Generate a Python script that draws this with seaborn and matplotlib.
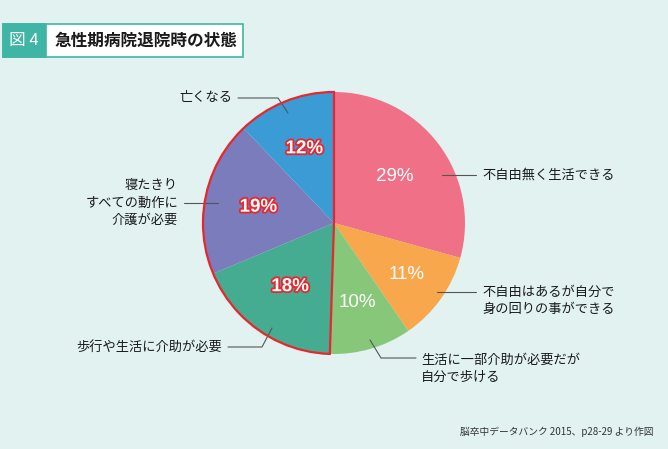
import matplotlib
matplotlib.use("Agg")
import matplotlib.pyplot as plt
import matplotlib.patheffects as pe
from matplotlib.patches import Wedge, Rectangle
import seaborn as sns
import numpy as np

# ---- data ----
categories = ["不自由無く生活できる", "不自由はあるが自分で\n身の回りの事ができる",
              "生活に一部介助が必要だが\n自分で歩ける", "歩行や生活に介助が必要",
              "寝たきり\nすべての動作に\n介護が必要", "亡くなる"]
values = [29, 11, 10, 18, 19, 12]
slice_colors = ["#f07088", "#f8a74c", "#86c779", "#45ab91", "#7b7cbb", "#3a9bd5"]
outlined = [False, False, False, True, True, True]
title_tag = "図 4"
title_text = "急性期病院退院時の状態"
source_text = "脳卒中データバンク 2015、p28-29 より作図"

sns.set_theme(style="white")
plt.rcParams['font.family'] = ['Noto Sans CJK JP', 'DejaVu Sans']

BG = "#e1f2f1"
W, H = 668, 449
fig = plt.figure(figsize=(W / 100, H / 100), dpi=100, facecolor=BG)
ax = fig.add_axes([0, 0, 1, 1])
ax.set_xlim(0, W)
ax.set_ylim(0, H)
ax.axis("off")
ax.set_facecolor(BG)

def py(y):
    return H - y

cx, cy, R = 334, py(223), 131
palette = sns.color_palette(slice_colors)
wedges, _ = ax.pie(values, colors=palette, startangle=90, counterclock=False,
                   center=(cx, cy), radius=R, frame=True,
                   wedgeprops=dict(linewidth=0))
ax.set_xlim(0, W)
ax.set_ylim(0, H)
ax.set_aspect("equal")
ax.axis("off")

# red outline around the outlined group
total = sum(values)
start_frac = sum(v for v, o in zip(values, outlined) if not o) / total
t2 = 90 - 360 * start_frac + 360
ax.add_patch(Wedge((cx, cy), R, 90, t2, fill=False, edgecolor="#e8262e",
                   linewidth=1.6, zorder=5))

# percentage labels
label_r = [0.58, 0.68, 0.63, 0.59, 0.59, 0.61]
cum = 0
for v, o, lr in zip(values, outlined, label_r):
    mid = 90 - 360 * (cum + v / 2) / total
    cum += v
    x = cx + lr * R * np.cos(np.radians(mid))
    y = cy + lr * R * np.sin(np.radians(mid))
    if o:
        t = ax.text(x, y, f"{v}%", ha="center", va="center", fontsize=13.5,
                    fontweight="bold", color="white", family="Liberation Sans", zorder=6)
        t.set_path_effects([pe.withStroke(linewidth=2.6, foreground="#e8262e")])
    else:
        ax.text(x, y, f"{v}%", ha="center", va="center", fontsize=13.5,
                color="white", family="Liberation Sans", zorder=6)

# leader lines (pixel layout)
LC = "#555555"
leaders = [
    [(442, 175), (476, 175)],
    [(437, 292), (476, 292)],
    [(370, 340), (381, 358), (416, 358)],
    [(272, 328), (262, 347), (228, 347)],
    [(218, 203), (184, 203)],
    [(288, 113), (278, 98), (238, 98)],
]
for pts in leaders:
    xs = [p[0] for p in pts]
    ys = [py(p[1]) for p in pts]
    ax.plot(xs, ys, color=LC, linewidth=0.8, zorder=4)

# category labels
lab_pos = [(482, 175, "left"), (482, 301, "left"), (421, 369, "left"),
           (222, 347, "right"), (178, 203, "right"), (232, 98, "right")]
for cat, (x, y, ha) in zip(categories, lab_pos):
    ax.text(x, py(y), cat, ha=ha, va="center", fontsize=9.5, color="#1a1a1a",
            linespacing=1.45, multialignment=ha)

# title block
ax.add_patch(Rectangle((3, py(57)), 240, 33, facecolor="white",
                       edgecolor="#3fb5a5", linewidth=1.2, zorder=3))
ax.add_patch(Rectangle((3, py(57)), 43, 33, facecolor="#3fb5a5",
                       edgecolor="#3fb5a5", linewidth=1.2, zorder=3))
ax.text(24, py(41), title_tag, ha="center", va="center", fontsize=12,
        color="white", zorder=4)
ax.text(55, py(41), title_text, ha="left", va="center", fontsize=12,
        fontweight="bold", color="#1a1a1a", zorder=4)

# source
ax.text(654, py(432), source_text, ha="right", va="center", fontsize=7,
        color="#333333")

fig.savefig("out.png", dpi=100, facecolor=BG)
